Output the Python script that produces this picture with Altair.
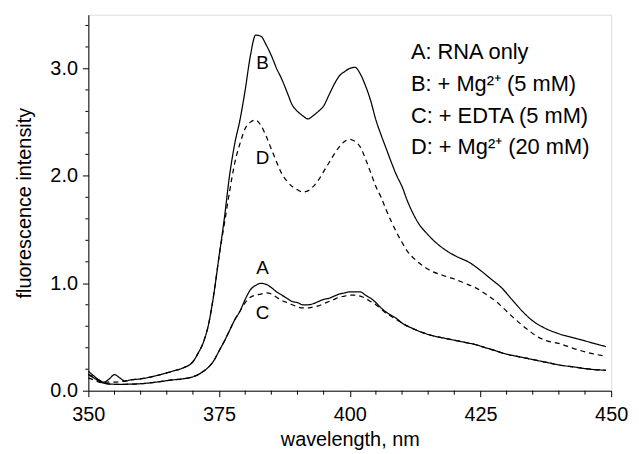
import altair as alt
import pandas as pd

# ---- data ----
wl_A = [350, 351, 352, 353, 355, 357, 360, 363, 366, 368, 370, 371, 372, 373, 374, 375, 376, 377, 378, 379, 380, 381, 382, 383,
        384, 385, 386, 387, 388, 389, 390, 391, 392, 393, 394, 395, 396, 397, 398, 399, 400, 401, 402, 403, 404, 405, 406, 407,
        408, 409, 410, 412, 414, 416, 418, 420, 422, 424, 426, 428, 430, 432, 434, 436, 438, 440, 443, 446, 449]
A = [0.15, 0.12, 0.09, 0.07, 0.06, 0.06, 0.065, 0.08, 0.10, 0.11, 0.13, 0.15, 0.18, 0.22, 0.28, 0.37, 0.46, 0.56, 0.66, 0.74,
     0.85, 0.94, 0.98, 1.00, 0.99, 0.96, 0.92, 0.89, 0.86, 0.83, 0.82, 0.80, 0.80, 0.81, 0.83, 0.85, 0.86, 0.88, 0.90, 0.91,
     0.92, 0.92, 0.92, 0.89, 0.86, 0.82, 0.77, 0.73, 0.70, 0.67, 0.63, 0.58, 0.54, 0.51, 0.49, 0.47, 0.45, 0.43, 0.40, 0.37,
     0.34, 0.32, 0.30, 0.28, 0.26, 0.24, 0.22, 0.20, 0.19]

wl_C = [350, 351, 352, 353, 355, 357, 360, 363, 366, 368, 370, 371, 372, 373, 374, 375, 376, 377, 378, 379, 380, 381, 382, 383,
        384, 385, 386, 387, 388, 389, 390, 391, 392, 393, 394, 395, 396, 397, 398, 399, 400, 401, 402, 403, 404, 405, 406, 407,
        408, 409, 410, 412, 414, 416, 418, 420, 422, 424, 426, 428, 430, 432, 434, 436, 438, 440, 443, 446, 449]
C = [0.12, 0.10, 0.08, 0.07, 0.06, 0.06, 0.065, 0.08, 0.10, 0.11, 0.13, 0.15, 0.18, 0.22, 0.28, 0.37, 0.46, 0.56, 0.66, 0.74,
     0.82, 0.87, 0.89, 0.90, 0.91, 0.90, 0.87, 0.84, 0.82, 0.80, 0.78, 0.77, 0.77, 0.78, 0.79, 0.81, 0.83, 0.85, 0.87, 0.88,
     0.89, 0.89, 0.88, 0.86, 0.83, 0.80, 0.76, 0.72, 0.69, 0.66, 0.63, 0.58, 0.54, 0.51, 0.49, 0.47, 0.45, 0.43, 0.40, 0.37,
     0.34, 0.32, 0.30, 0.28, 0.26, 0.24, 0.22, 0.20, 0.19]

wl_B = [350, 351, 352, 353, 354, 355, 356, 357, 358, 360, 363, 366, 368, 370, 371, 372, 373, 374, 375, 376, 377, 378, 379, 380,
        381, 382, 383, 384, 385, 386, 387, 388, 389, 390, 391, 392, 393, 394, 395, 396, 397, 398, 399, 400, 401, 402, 403, 404,
        405, 406, 407, 408, 409, 410, 411, 412, 413, 415, 418, 420, 423, 425, 427, 429, 431, 433, 435, 437, 440, 443, 446, 449]
B = [0.18, 0.14, 0.10, 0.08, 0.11, 0.15, 0.12, 0.09, 0.10, 0.11, 0.14, 0.18, 0.21, 0.27, 0.35, 0.45, 0.62, 0.90, 1.25, 1.60,
     2.00, 2.30, 2.52, 2.80, 3.12, 3.31, 3.30, 3.22, 3.12, 3.00, 2.90, 2.78, 2.66, 2.60, 2.56, 2.53, 2.56, 2.60, 2.65, 2.75,
     2.85, 2.93, 2.97, 3.00, 3.01, 2.95, 2.84, 2.70, 2.52, 2.38, 2.25, 2.12, 2.00, 1.90, 1.77, 1.66, 1.57, 1.45, 1.32, 1.26,
     1.19, 1.12, 1.04, 0.96, 0.85, 0.74, 0.65, 0.59, 0.53, 0.49, 0.45, 0.41]

wl_D = [350, 351, 352, 353, 355, 357, 358, 360, 363, 366, 368, 370, 371, 372, 373, 374, 375, 376, 377, 378, 379, 380, 381, 382,
        383, 384, 385, 386, 387, 388, 389, 390, 391, 392, 393, 394, 395, 396, 397, 398, 399, 400, 401, 402, 403, 404, 405, 406,
        407, 408, 409, 410, 411, 413, 415, 418, 420, 422, 424, 426, 428, 430, 432, 434, 436, 438, 440, 443, 446, 449]
D = [0.15, 0.13, 0.10, 0.08, 0.08, 0.09, 0.10, 0.11, 0.14, 0.18, 0.21, 0.27, 0.35, 0.45, 0.62, 0.90, 1.25, 1.55, 1.85, 2.12,
     2.30, 2.44, 2.50, 2.52, 2.47, 2.37, 2.25, 2.13, 2.02, 1.95, 1.90, 1.87, 1.85, 1.86, 1.90, 1.96, 2.04, 2.12, 2.20, 2.27,
     2.32, 2.34, 2.32, 2.27, 2.16, 2.03, 1.90, 1.80, 1.68, 1.57, 1.47, 1.38, 1.30, 1.20, 1.13, 1.07, 1.04, 1.00, 0.96, 0.90,
     0.83, 0.74, 0.65, 0.57, 0.50, 0.46, 0.44, 0.39, 0.35, 0.32]

curve_names = ["A", "B", "C", "D"]
curve_dashed = [False, False, True, True]

label_text = ["B", "D", "A", "C"]
label_x = [383.3, 383.3, 383.3, 383.3]
label_y = [3.05, 2.17, 1.14, 0.72]

legend_lines = ["A: RNA only", "B: + Mg²⁺ (5 mM)", "C: + EDTA (5 mM)", "D: + Mg²⁺ (20 mM)"]
legend_x = [411.7, 411.7, 411.7, 411.7]
legend_y = [3.15, 2.855, 2.56, 2.265]

x_major = [350, 375, 400, 425, 450]
x_minor = [355, 360, 365, 370, 380, 385, 390, 395, 405, 410, 415, 420, 430, 435, 440, 445]
y_major = [0.0, 1.0, 2.0, 3.0]
y_minor = [0.2, 0.4, 0.6, 0.8, 1.2, 1.4, 1.6, 1.8, 2.2, 2.4, 2.6, 2.8, 3.2, 3.4]

# ---- build tables ----
rows = []
for name, wl, vals, dashed in zip(curve_names, [wl_A, wl_B, wl_C, wl_D], [A, B, C, D], curve_dashed):
    for i, (w, v) in enumerate(zip(wl, vals)):
        rows.append({"curve": name, "wl": w, "val": v, "order": i, "dashed": "dash" if dashed else "solid"})
df = pd.DataFrame(rows)

lab_df = pd.DataFrame({"t": label_text, "x": label_x, "y": label_y})
leg_df = pd.DataFrame({"t": legend_lines, "x": legend_x, "y": legend_y})
xminor_df = pd.DataFrame({"v": x_minor})
yminor_df = pd.DataFrame({"v": y_minor})

FONT = "Liberation Sans"
H = 379

xscale = alt.Scale(domain=[350, 450], nice=False, zero=False)
yscale = alt.Scale(domain=[0, 3.5], nice=False, zero=True)

x_axis = alt.Axis(
    values=x_major, format="d", tickSize=6,
    title="wavelength, nm",
    titleFont=FONT, titleFontSize=20, titleFontWeight="normal", titleColor="black", titlePadding=5,
    labelFont=FONT, labelFontSize=20, labelColor="black", labelPadding=8,
    tickColor="black", domainColor="black", grid=False, labelFlush=False, labelOverlap=False,
)
y_axis = alt.Axis(
    values=y_major, format=".1f", tickSize=6,
    title="fluorescence intensity",
    titleFont=FONT, titleFontSize=20, titleFontWeight="normal", titleColor="black", titlePadding=16,
    labelFont=FONT, labelFontSize=20, labelColor="black", labelPadding=5,
    tickColor="black", domainColor="black", grid=False, labelFlush=False, labelOverlap=False,
)

lines = alt.Chart(df).mark_line(color="black", strokeWidth=1.25, interpolate="monotone").encode(
    x=alt.X("wl:Q", scale=xscale, axis=x_axis),
    y=alt.Y("val:Q", scale=yscale, axis=y_axis),
    detail="curve:N",
    order="order:Q",
    strokeDash=alt.StrokeDash(
        "dashed:N",
        scale=alt.Scale(domain=["solid", "dash"], range=[[1, 0], [5, 4]]),
        legend=None,
    ),
)

xminor = alt.Chart(xminor_df).mark_rule(color="black", strokeWidth=1).encode(
    x=alt.X("v:Q", scale=xscale), y=alt.value(H), y2=alt.value(H + 4)
)
yminor = alt.Chart(yminor_df).mark_rule(color="black", strokeWidth=1).encode(
    y=alt.Y("v:Q", scale=yscale), x=alt.value(0), x2=alt.value(-3)
)

labels = alt.Chart(lab_df).mark_text(font=FONT, fontSize=19, color="black", align="center", baseline="middle").encode(
    x=alt.X("x:Q", scale=xscale), y=alt.Y("y:Q", scale=yscale), text="t:N"
)

legend = alt.Chart(leg_df).mark_text(font=FONT, fontSize=22, color="black", align="left", baseline="middle").encode(
    x=alt.X("x:Q", scale=xscale), y=alt.Y("y:Q", scale=yscale), text="t:N"
)

chart = alt.layer(lines, xminor, yminor, labels, legend).properties(
    width=527, height=H,
    autosize=alt.AutoSizeParams(type="none"),
    padding={"left": 81, "top": 5, "right": 20, "bottom": 58},
).configure_view(stroke="black", strokeWidth=1).configure(background="white")

chart.save("out.html", embed_options={"renderer": "svg", "actions": False})
